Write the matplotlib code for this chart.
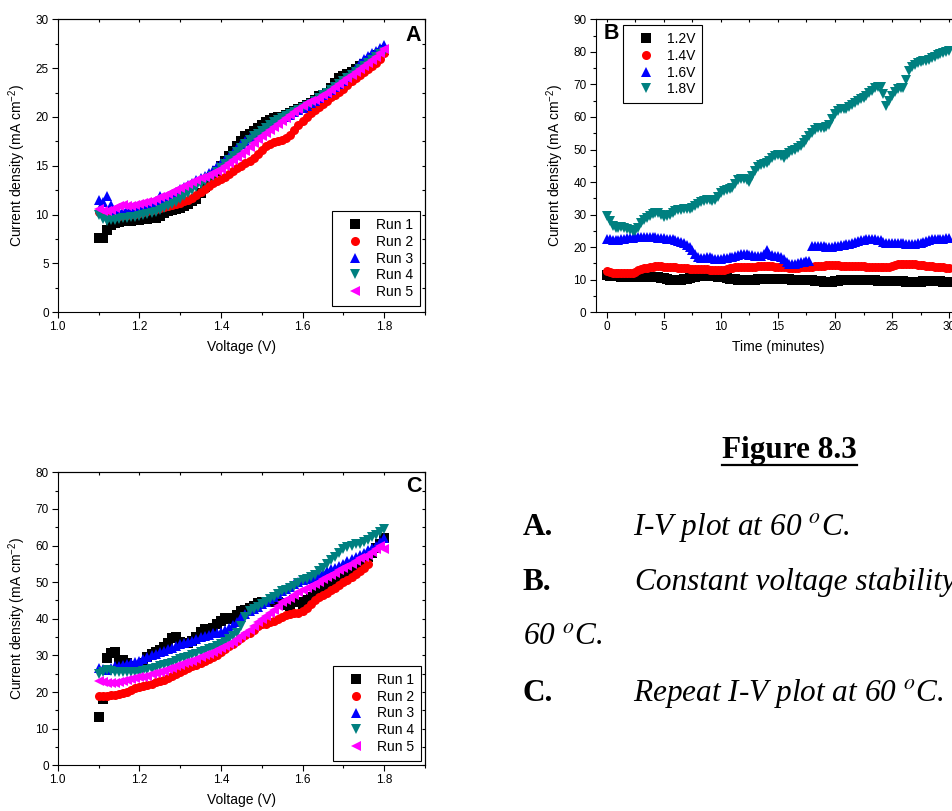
import numpy as np
import matplotlib
matplotlib.use("Agg")
import matplotlib.pyplot as plt
from matplotlib.ticker import MultipleLocator
from matplotlib.lines import Line2D

plt.rcParams.update({
    "font.family": "Liberation Sans",
    "mathtext.fontset": "custom",
    "mathtext.rm": "Liberation Sans",
    "mathtext.it": "Liberation Sans:italic",
    "mathtext.bf": "Liberation Sans:bold",
})

# ---------------------------------------------------------------- data
# voltage sweep in 10 mV steps
voltage = np.round(np.arange(1.10, 1.805, 0.01), 2)
# sampling times of the potentiostatic runs (minutes, every 15 s)
time_min = np.arange(0.0, 30.01, 0.25)

run_labels = ["Run 1", "Run 2", "Run 3", "Run 4", "Run 5"]
hold_labels = ["1.2V", "1.4V", "1.6V", "1.8V"]

# A: I-V at 60 C, current density (mA cm-2)
iv_a_run1 = [7.6, 7.6, 8.4, 8.9, 9.1, 9.2, 9.3, 9.3, 9.3, 9.4, 9.5, 9.6, 9.6, 9.7, 9.7,
             9.9, 10.2, 10.4, 10.5, 10.6, 10.7, 10.9, 11.1, 11.4, 11.6, 12.2, 12.8, 13.4,
             14.0, 14.5, 15.0, 15.5, 16.0, 16.5, 17.0, 17.5, 18.0, 18.3, 18.6, 18.9, 19.2,
             19.5, 19.7, 19.9, 20.0, 20.0, 20.2, 20.4, 20.6, 20.8, 21.0, 21.2, 21.4, 21.7,
             22.1, 22.3, 22.5, 23.0, 23.5, 24.0, 24.2, 24.4, 24.6, 24.9, 25.2, 25.4, 25.7,
             26.0, 26.3, 26.6, 26.9]
iv_a_run2 = [10.3, 10.1, 10.0, 9.9, 9.9, 9.9, 10.0, 10.0, 10.1, 10.1, 10.2, 10.3, 10.4,
             10.5, 10.6, 10.7, 10.8, 10.9, 11.0, 11.1, 11.2, 11.4, 11.5, 11.7, 12.0, 12.3,
             12.6, 12.9, 13.2, 13.4, 13.6, 13.9, 14.2, 14.5, 14.8, 15.0, 15.3, 15.5, 15.8,
             16.2, 16.6, 17.0, 17.2, 17.4, 17.5, 17.6, 17.8, 18.2, 18.7, 19.2, 19.6, 20.0,
             20.4, 20.7, 21.0, 21.3, 21.6, 22.0, 22.3, 22.6, 22.9, 23.3, 23.7, 24.0, 24.3,
             24.6, 24.9, 25.2, 25.5, 25.9, 26.6]
iv_a_run3 = [11.5, 11.3, 11.9, 11.0, 10.4, 10.3, 10.4, 10.5, 10.6, 10.7, 10.8, 10.9, 11.0,
             11.2, 11.4, 11.9, 11.6, 11.8, 12.0, 12.3, 12.6, 12.8, 13.0, 13.2, 13.5, 13.8,
             14.0, 14.3, 14.6, 15.0, 15.3, 15.6, 15.9, 16.3, 16.8, 17.2, 17.5, 17.8, 18.0,
             18.3, 18.6, 18.9, 19.1, 19.3, 19.5, 19.8, 20.0, 20.2, 20.5, 20.7, 20.9, 21.1,
             21.4, 21.6, 21.9, 22.2, 22.5, 22.8, 23.1, 23.4, 23.7, 24.1, 24.5, 25.0, 25.5,
             25.9, 26.2, 26.5, 26.8, 27.1, 27.4]
iv_a_run4 = [10.0, 9.6, 9.3, 9.4, 9.5, 9.6, 9.7, 9.7, 9.8, 9.8, 9.9, 10.0, 10.1, 10.2,
             10.3, 10.5, 10.7, 10.9, 11.1, 11.3, 11.6, 11.9, 12.2, 12.5, 12.8, 13.1, 13.4,
             13.7, 14.0, 14.4, 14.8, 15.2, 15.6, 16.0, 16.4, 16.8, 17.2, 17.6, 18.0, 18.3,
             18.6, 18.9, 19.2, 19.5, 19.7, 19.9, 20.1, 20.3, 20.5, 20.7, 20.9, 21.1, 21.3,
             21.6, 21.9, 22.2, 22.5, 22.8, 23.1, 23.4, 23.7, 24.0, 24.3, 24.6, 24.9, 25.2,
             25.5, 25.8, 26.1, 26.4, 26.7]
iv_a_run5 = [10.6, 10.4, 10.4, 10.5, 10.7, 10.9, 11.0, 10.9, 10.9, 11.0, 11.1, 11.2, 11.3,
             11.4, 11.6, 11.8, 11.9, 12.1, 12.3, 12.5, 12.7, 12.9, 13.1, 13.3, 13.5, 13.7,
             13.9, 14.1, 14.3, 14.5, 14.7, 15.0, 15.3, 15.6, 15.9, 16.2, 16.5, 16.9, 17.3,
             17.7, 18.1, 18.4, 18.7, 19.0, 19.3, 19.6, 19.9, 20.2, 20.5, 20.8, 21.1, 21.4,
             21.6, 21.7, 21.9, 22.2, 22.5, 22.8, 23.1, 23.4, 23.7, 24.0, 24.3, 24.6, 24.9,
             25.2, 25.5, 25.8, 26.1, 26.5, 27.0]

# B: constant-voltage holds, current density (mA cm-2) vs time
hold_12 = [11.5, 11.3, 11.2, 11.1, 11.0, 10.9, 10.9, 10.8,
           10.8, 10.8, 10.8, 10.8, 10.8, 10.8, 10.8, 10.8,
           10.8, 10.7, 10.7, 10.6, 10.4, 10.2, 10.0, 9.9,
           9.9, 9.9, 10.0, 10.1, 10.3, 10.6, 10.8, 10.9,
           11.0, 11.0, 11.0, 11.0, 11.0, 11.0, 11.0, 10.9,
           10.8, 10.7, 10.5, 10.3, 10.2, 10.1, 10.0, 9.9,
           9.9, 9.9, 9.9, 9.9, 10.0, 10.1, 10.2, 10.3,
           10.3, 10.3, 10.3, 10.3, 10.3, 10.2, 10.2, 10.1,
           10.1, 10.0, 10.0, 10.0, 10.0, 9.9, 9.9, 9.8,
           9.8, 9.7, 9.6, 9.5, 9.4, 9.3, 9.3, 9.4,
           9.5, 9.7, 9.8, 9.9, 10.0, 10.0, 10.0, 10.0,
           10.0, 10.0, 9.9, 9.9, 9.8, 9.8, 9.8, 9.7,
           9.7, 9.7, 9.6, 9.6, 9.6, 9.6, 9.7, 9.7,
           9.6, 9.4, 9.2, 9.2, 9.2, 9.3, 9.4, 9.5,
           9.5, 9.6, 9.6, 9.6, 9.6, 9.5, 9.4, 9.3,
           9.3]
hold_14 = [12.8, 12.5, 12.2, 12.1, 12.0, 12.0, 12.0, 12.0,
           12.1, 12.2, 12.5, 12.9, 13.3, 13.5, 13.6, 13.8,
           14.0, 14.1, 14.1, 14.1, 14.0, 14.0, 13.9, 13.8,
           13.8, 13.7, 13.6, 13.5, 13.5, 13.4, 13.3, 13.2,
           13.2, 13.2, 13.2, 13.2, 13.1, 13.0, 12.9, 12.9,
           13.0, 13.1, 13.3, 13.5, 13.7, 13.8, 13.9, 14.0,
           14.0, 14.0, 14.0, 14.0, 14.0, 14.1, 14.1, 14.2,
           14.2, 14.2, 14.1, 14.0, 14.0, 13.9, 13.9, 13.8,
           13.7, 13.7, 13.7, 13.7, 13.8, 13.8, 13.9, 14.0,
           14.0, 14.1, 14.2, 14.3, 14.3, 14.4, 14.4, 14.4,
           14.4, 14.4, 14.3, 14.3, 14.3, 14.2, 14.2, 14.2,
           14.2, 14.1, 14.1, 14.0, 14.0, 13.9, 13.9, 13.8,
           13.8, 13.8, 13.9, 14.0, 14.2, 14.5, 14.7, 14.8,
           14.8, 14.8, 14.8, 14.7, 14.7, 14.6, 14.5, 14.4,
           14.3, 14.2, 14.1, 14.0, 14.0, 13.9, 13.8, 13.7,
           13.6]
hold_16 = [22.5, 22.4, 22.3, 22.2, 22.3, 22.4, 22.5, 22.7,
           22.8, 22.9, 23.0, 23.1, 23.1, 23.2, 23.1, 23.1,
           23.0, 23.0, 22.9, 22.8, 22.7, 22.6, 22.5, 22.4,
           22.2, 21.9, 21.6, 21.3, 20.8, 20.1, 19.2, 18.0,
           17.0, 16.6, 16.6, 16.9, 17.1, 16.7, 16.4, 16.4,
           16.5, 16.6, 16.8, 16.9, 17.0, 17.3, 17.5, 17.8,
           17.9, 17.8, 17.6, 17.5, 17.4, 17.4, 17.3, 17.8,
           19.0, 18.0, 17.5, 17.3, 17.2, 16.9, 16.3, 15.5,
           14.8, 14.7, 14.8, 15.0, 15.3, 15.5, 15.8, 15.9,
           20.5, 20.5, 20.4, 20.3, 20.3, 20.2, 20.2, 20.2,
           20.3, 20.4, 20.6, 20.8, 21.0, 21.1, 21.3, 21.6,
           21.8, 22.1, 22.3, 22.5, 22.5, 22.5, 22.4, 22.3,
           22.2, 21.7, 21.4, 21.3, 21.2, 21.2, 21.2, 21.2,
           21.2, 21.1, 21.1, 21.1, 21.1, 21.2, 21.3, 21.5,
           21.8, 22.1, 22.4, 22.5, 22.6, 22.6, 22.6, 22.7,
           22.8]
hold_18 = [29.5, 28.0, 26.5, 26.0, 25.8, 26.2, 26.0, 25.6,
           25.3, 25.0, 25.0, 25.8, 27.5, 28.5, 29.0, 29.5,
           30.3, 30.6, 30.5, 29.8, 29.2, 29.5, 30.0, 30.6,
           31.0, 31.3, 31.5, 31.7, 31.7, 31.8, 32.0, 32.5,
           33.2, 33.8, 34.2, 34.5, 34.5, 34.3, 34.5, 35.5,
           36.5, 37.2, 37.5, 37.8, 38.2, 39.3, 40.5, 40.8,
           40.8, 40.5, 40.0, 41.8, 43.5, 44.5, 45.3, 45.6,
           46.0, 46.6, 47.3, 47.9, 48.3, 48.0, 47.5, 48.2,
           49.0, 49.6, 50.0, 50.4, 51.0, 52.0, 53.0, 54.0,
           55.0, 56.0, 56.5, 56.6, 56.5, 56.8, 57.5, 59.3,
           61.0, 61.8, 62.3, 62.4, 62.5, 63.1, 63.7, 64.4,
           65.0, 65.4, 65.8, 66.5, 67.3, 68.0, 68.8, 69.3,
           69.3, 67.0, 63.5, 65.0, 66.5, 67.6, 68.5, 68.8,
           69.0, 71.5, 74.0, 75.2, 76.0, 76.6, 77.0, 77.2,
           77.3, 77.6, 78.0, 78.5, 79.0, 79.4, 79.8, 80.0,
           80.3]

# C: repeat I-V at 60 C (run 2 stops at 1.76 V)
iv_c_run1 = [13.1, 18.0, 29.2, 30.6, 31.0, 28.3, 28.8, 27.8, 27.2, 27.0, 27.0, 28.0, 29.5,
             30.3, 31.0, 31.5, 32.2, 33.5, 34.8, 35.0, 33.8, 33.4, 33.5, 34.0, 35.0, 36.5,
             37.2, 37.0, 37.5, 38.5, 39.5, 40.3, 40.0, 40.3, 41.0, 42.0, 42.5, 43.0, 43.5,
             44.2, 44.5, 44.5, 44.6, 44.7, 44.5, 44.2, 43.8, 43.5, 45.0, 44.5, 44.0, 45.0,
             46.0, 47.0, 48.0, 48.5, 49.2, 50.0, 50.5, 51.0, 51.5, 52.2, 53.0, 54.0, 55.0,
             56.0, 57.0, 58.0, 59.2, 60.5, 62.0]
iv_c_run2 = [19.0, 19.0, 19.0, 19.1, 19.2, 19.5, 19.8, 20.1, 20.5, 21.0, 21.4, 21.7, 22.0,
             22.3, 22.7, 23.0, 23.4, 23.8, 24.3, 24.9, 25.5, 26.0, 26.5, 27.0, 27.5, 28.0,
             28.5, 29.0, 29.5, 30.2, 31.0, 31.7, 32.5, 33.2, 34.0, 34.7, 35.5, 36.2, 37.0,
             38.0, 38.5, 38.7, 39.0, 39.5, 40.0, 40.5, 41.0, 41.3, 41.5, 41.7, 42.0, 43.0,
             44.0, 45.0, 46.0, 46.5, 47.0, 47.8, 48.5, 49.2, 50.0, 50.7, 51.5, 52.2, 53.0,
             54.0, 55.0]
iv_c_run3 = [26.5, 26.2, 26.0, 26.5, 27.0, 27.2, 27.5, 27.7, 28.0, 28.2, 28.5, 29.0, 29.5,
             30.0, 30.5, 31.0, 31.3, 31.7, 32.0, 32.5, 33.0, 33.3, 33.7, 34.0, 34.5, 35.0,
             35.3, 35.7, 36.0, 36.2, 36.5, 37.0, 37.5, 38.2, 39.0, 40.5, 41.2, 42.0, 42.7,
             43.3, 44.0, 44.7, 45.3, 46.0, 46.7, 47.5, 48.2, 48.8, 49.5, 50.0, 50.5, 50.8,
             51.2, 51.5, 52.0, 52.5, 53.0, 53.5, 54.0, 54.5, 55.0, 55.7, 56.3, 57.0, 57.5,
             58.0, 58.7, 59.3, 60.0, 61.0, 62.0]
iv_c_run4 = [25.0, 25.5, 26.0, 25.8, 25.5, 25.5, 25.5, 25.5, 25.5, 25.5, 25.5, 25.7, 26.0,
             26.3, 26.7, 27.0, 27.3, 27.7, 28.0, 28.5, 29.0, 29.3, 29.7, 30.0, 30.5, 31.0,
             31.3, 31.7, 32.0, 32.5, 33.0, 33.7, 34.5, 35.2, 36.0, 38.0, 40.5, 42.0, 42.7,
             43.3, 44.0, 44.7, 45.3, 46.0, 46.7, 47.5, 48.0, 48.5, 49.0, 49.8, 50.5, 51.0,
             51.5, 52.0, 53.0, 54.0, 55.0, 56.0, 57.0, 58.0, 59.0, 59.5, 60.0, 60.3, 60.5,
             61.0, 61.5, 62.2, 63.0, 63.8, 64.5]
iv_c_run5 = [23.0, 22.7, 22.5, 22.5, 22.5, 22.7, 23.0, 23.2, 23.5, 23.7, 24.0, 24.2, 24.5,
             24.8, 25.2, 25.5, 25.8, 26.2, 26.5, 27.0, 27.5, 27.8, 28.2, 28.5, 29.0, 29.5,
             30.0, 30.5, 31.0, 31.5, 32.0, 32.5, 33.0, 33.7, 34.5, 35.2, 36.0, 37.0, 38.0,
             39.0, 40.0, 40.8, 41.7, 42.5, 43.5, 44.5, 45.2, 45.8, 46.5, 47.2, 48.0, 48.5,
             49.0, 49.5, 50.0, 51.0, 51.5, 52.0, 52.5, 53.2, 54.0, 54.5, 55.0, 55.7, 56.5,
             57.0, 57.5, 58.2, 59.0, 60.0, 59.0]

# ---------------------------------------------------------------- style
colors = ["#000000", "#FF0000", "#0000FF", "#008080", "#FF00FF"]
markers = ["s", "o", "^", "v", "<"]
MS = 6.5
W, H = 953, 811


def px_rect(left, top, width, height):
    """Axes rectangle from pixel geometry (origin top-left)."""
    return [left / W, 1 - (top + height) / H, width / W, height / H]


def style_axes(ax, xmaj, xmin, ymaj, ymin):
    for sp in ax.spines.values():
        sp.set_linewidth(0.8)
    ax.xaxis.set_major_locator(MultipleLocator(xmaj))
    ax.xaxis.set_minor_locator(MultipleLocator(xmin))
    ax.yaxis.set_major_locator(MultipleLocator(ymaj))
    ax.yaxis.set_minor_locator(MultipleLocator(ymin))
    ax.tick_params(which="both", direction="out", top=False, right=False,
                   labelsize=8.5, width=0.8, colors="black")
    ax.tick_params(which="major", length=4.5, pad=2)
    ax.tick_params(which="minor", length=2.5)
    # short inward ticks on the top and right frame
    top = ax.secondary_xaxis("top")
    top.xaxis.set_major_locator(MultipleLocator(xmaj))
    top.xaxis.set_minor_locator(MultipleLocator(xmin))
    top.tick_params(which="both", direction="in", length=2, width=0.8, labeltop=False)
    right = ax.secondary_yaxis("right")
    right.yaxis.set_major_locator(MultipleLocator(ymaj))
    right.yaxis.set_minor_locator(MultipleLocator(ymin))
    right.tick_params(which="both", direction="in", length=2, width=0.8, labelright=False)
    for sec in (top, right):
        for sp in sec.spines.values():
            sp.set_linewidth(0.8)


def add_legend(ax, **kw):
    leg = ax.legend(frameon=True, fancybox=False, edgecolor="black", framealpha=1,
                    fontsize=10, numpoints=1, handlelength=2.3, handletextpad=0.36,
                    borderpad=0.5, labelspacing=0.2, borderaxespad=0, **kw)
    leg.get_frame().set_linewidth(0.8)
    return leg


fig = plt.figure(figsize=(W / 100, H / 100), dpi=100)

# ---------------------------------------------------------------- panel A
ax_a = fig.add_axes(px_rect(57.7, 19.3, 367.3, 293.0))
for y, lab, c, m in zip([iv_a_run1, iv_a_run2, iv_a_run3, iv_a_run4, iv_a_run5],
                        run_labels, colors, markers):
    ax_a.plot(voltage[:len(y)], y, ls="none", marker=m, ms=MS, mew=0, color=c, label=lab)
ax_a.set_xlim(1.0, 1.9)
ax_a.set_ylim(0, 30)
style_axes(ax_a, 0.2, 0.1, 5, 2.5)
ax_a.set_xlabel("Voltage (V)", fontsize=10, labelpad=5)
ax_a.set_ylabel("Current density (mA cm$^{-2}$)", fontsize=10, labelpad=5)
add_legend(ax_a, loc="lower right", bbox_to_anchor=(0.986, 0.0215))
ax_a.text(0.969, 0.946, "A", transform=ax_a.transAxes, fontsize=15.5,
          fontweight="bold", ha="center", va="center")

# ---------------------------------------------------------------- panel B
ax_b = fig.add_axes(px_rect(595.6, 19.3, 364.8, 293.0))
for y, lab, c, m in zip([hold_12, hold_14, hold_16, hold_18], hold_labels,
                        colors[:4], markers[:4]):
    ax_b.plot(time_min[:len(y)], y, ls="none", marker=m, ms=MS, mew=0, color=c, label=lab)
ax_b.set_xlim(-1, 31)
ax_b.set_ylim(0, 90)
style_axes(ax_b, 5, 2.5, 10, 5)
ax_b.set_xlabel("Time (minutes)", fontsize=10, labelpad=5)
ax_b.set_ylabel("Current density (mA cm$^{-2}$)", fontsize=10, labelpad=5)
add_legend(ax_b, loc="upper left", bbox_to_anchor=(0.075, 0.9805))
ax_b.text(0.042, 0.95, "B", transform=ax_b.transAxes, fontsize=15.5,
          fontweight="bold", ha="center", va="center")

# ---------------------------------------------------------------- panel C
ax_c = fig.add_axes(px_rect(57.7, 472.3, 367.3, 293.0))
for y, lab, c, m in zip([iv_c_run1, iv_c_run2, iv_c_run3, iv_c_run4, iv_c_run5],
                        run_labels, colors, markers):
    ax_c.plot(voltage[:len(y)], y, ls="none", marker=m, ms=MS, mew=0, color=c, label=lab)
ax_c.set_xlim(1.0, 1.9)
ax_c.set_ylim(0, 80)
style_axes(ax_c, 0.2, 0.1, 10, 5)
ax_c.set_xlabel("Voltage (V)", fontsize=10, labelpad=5)
ax_c.set_ylabel("Current density (mA cm$^{-2}$)", fontsize=10, labelpad=5)
add_legend(ax_c, loc="lower right", bbox_to_anchor=(0.989, 0.0147))
ax_c.text(0.969, 0.95, "C", transform=ax_c.transAxes, fontsize=15.5,
          fontweight="bold", ha="center", va="center")

# ---------------------------------------------------------------- caption
SERIF = "Liberation Serif"
CAP = 22.5


def ftext(x, y, s, **kw):
    return fig.text(x / W, 1 - y / H, s, va="baseline", ha="left",
                    family=SERIF, fontsize=CAP, **kw)


title = ftext(722, 458, "Figure 8.3", fontweight="bold")
ftext(523, 535, "A.", fontweight="bold")
ftext(633, 535, r"I-V plot at 60 $^{o}$C.", style="italic", math_fontfamily="stix")
ftext(523, 590, "B.", fontweight="bold")
ftext(635, 590, "Constant voltage stability at", style="italic")
ftext(523, 645, r"60 $^{o}$C.", style="italic", math_fontfamily="stix")
ftext(523, 701, "C.", fontweight="bold")
ftext(633, 701, r"Repeat I-V plot at 60 $^{o}$C.", style="italic", math_fontfamily="stix")

fig.canvas.draw()
bb = title.get_window_extent()
y_ul = 1 - 464.5 / H
fig.add_artist(Line2D([bb.x0 / W, bb.x1 / W], [y_ul, y_ul], color="black",
                      lw=1.6, transform=fig.transFigure))

fig.savefig("out.png", dpi=100)
